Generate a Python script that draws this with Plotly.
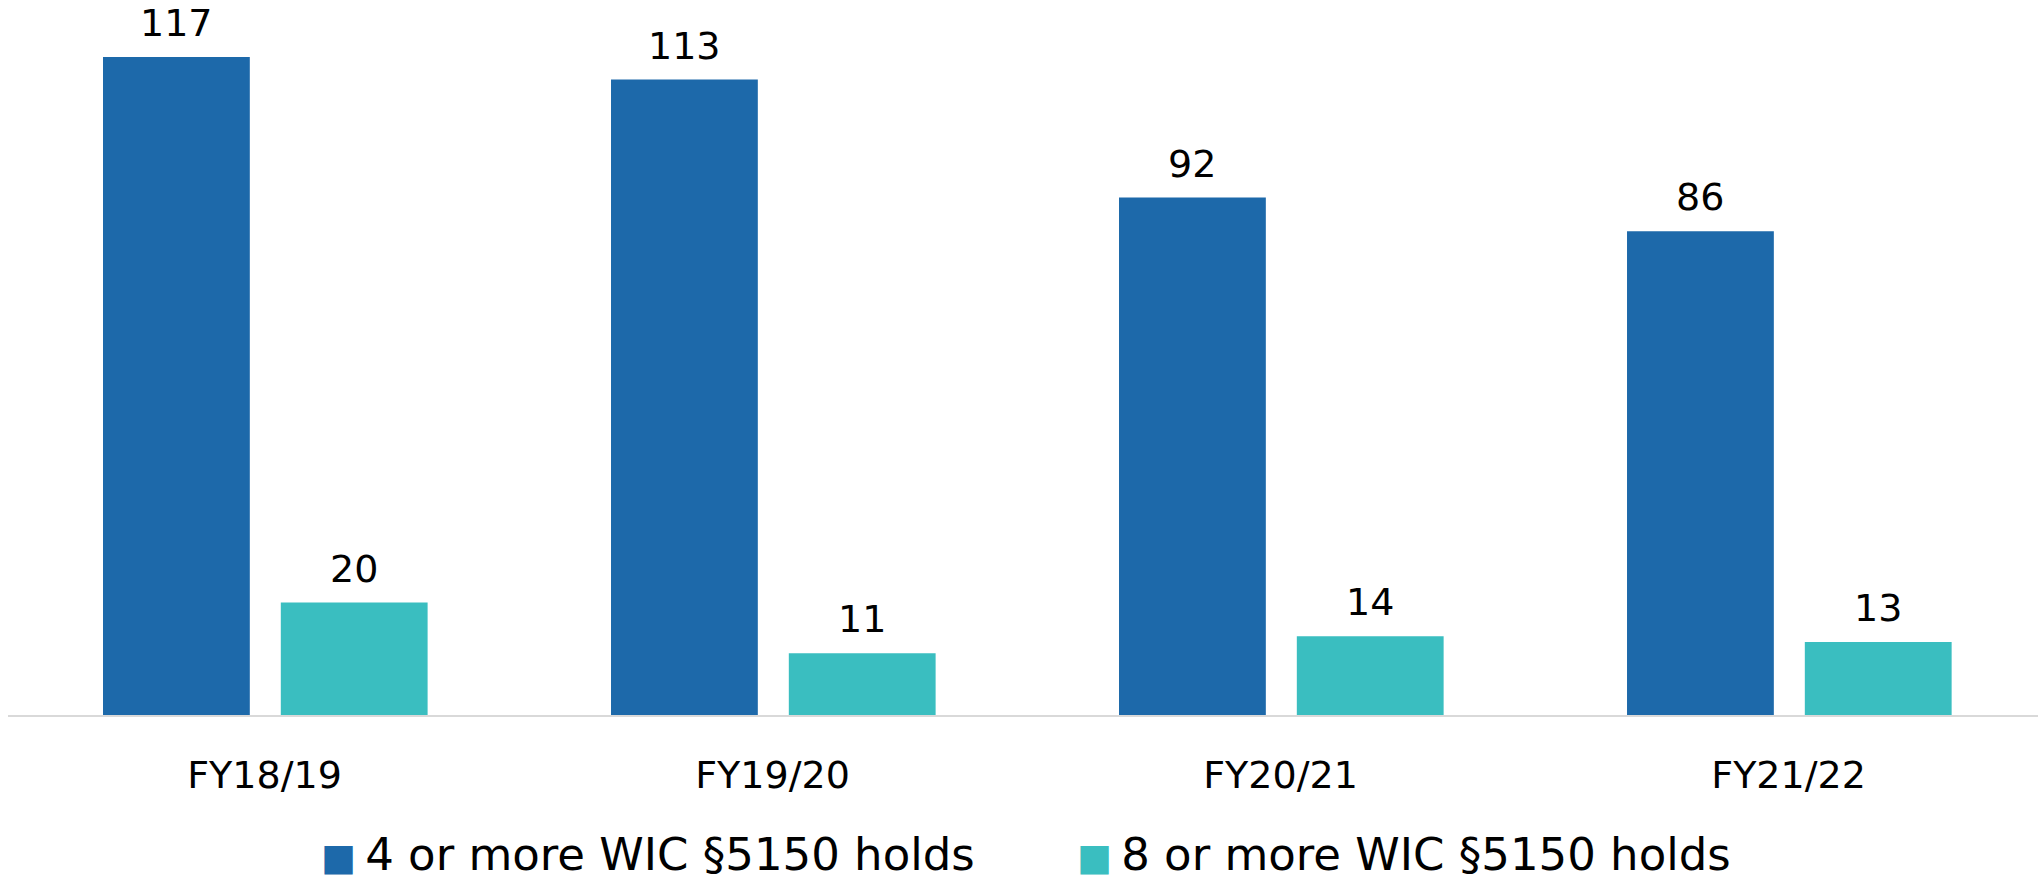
import plotly.graph_objects as go

categories = ["FY18/19", "FY19/20", "FY20/21", "FY21/22"]
series_names = ["4 or more WIC §5150 holds", "8 or more WIC §5150 holds"]
holds_4_plus = [117, 113, 92, 86]
holds_8_plus = [20, 11, 14, 13]

colors = ["#1D69AA", "#3ABEC0"]
bar_width = 0.289
offsets = [-0.318, 0.032]

fig = go.Figure()
for name, vals, col, off in zip(series_names, [holds_4_plus, holds_8_plus], colors, offsets):
    fig.add_trace(go.Bar(
        x=categories, y=vals, name=name, marker_color=col,
        marker_line_width=0, width=bar_width, offset=off, showlegend=False,
        hoverinfo="skip",
    ))
    # legend proxy: big coloured square glyph in the entry text
    fig.add_trace(go.Scatter(
        x=[None], y=[None], mode="markers",
        name=f"<span style='color:{col};font-size:37px'>■</span>\u2009{name}",
        marker=dict(symbol="square", size=1, color="rgba(0,0,0,0)"),
    ))
    for i, v in enumerate(vals):
        fig.add_annotation(
            x=i + off + bar_width / 2, y=v, text=str(v), showarrow=False,
            yanchor="bottom", xanchor="center", yshift=10,
            font=dict(family="DejaVu Sans", size=38, color="#000000"),
        )

fig.update_layout(
    width=2038, height=886,
    margin=dict(l=8, r=0, t=10, b=171, autoexpand=False),
    paper_bgcolor="white", plot_bgcolor="white",
    barmode="group",
    xaxis=dict(
        type="category", range=[-0.505, 3.491], automargin=False,
        showline=True, linecolor="#D9D9D9", linewidth=2,
        showgrid=False, ticks="", zeroline=False, ticklabelstandoff=25,
        tickfont=dict(family="DejaVu Sans", size=38, color="#000000"),
    ),
    yaxis=dict(range=[0, 125.36], visible=False, showgrid=False, zeroline=False,
               automargin=False),
    legend=dict(
        orientation="h", x=0.507, xanchor="center", y=-0.196, yanchor="middle",
        font=dict(family="DejaVu Sans", size=45, color="#000000"),
        itemwidth=30,
        entrywidth=711, entrywidthmode="pixels",
        bgcolor="rgba(0,0,0,0)",
    ),
)

fig.write_html(
    "out.html",
    config={"displayModeBar": False},
    post_script="document.body.style.margin='0';",
)
